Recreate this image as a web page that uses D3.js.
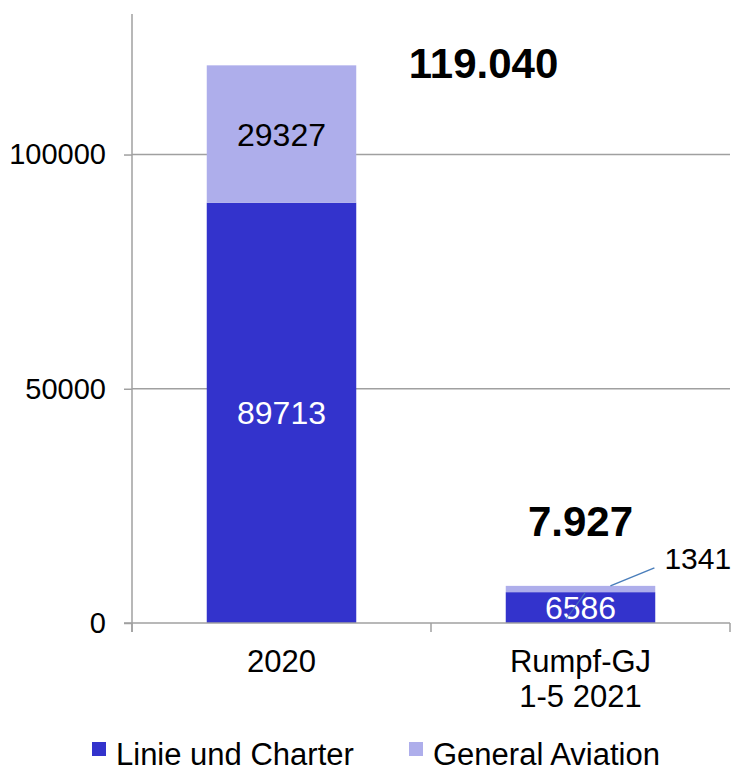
<!DOCTYPE html>
<html>
<head>
<meta charset="utf-8">
<script src="https://cdn.jsdelivr.net/npm/d3@7"></script>
<style>
  body { margin: 0; background: #fff; }
  svg { font-family: "Liberation Sans", Arial, sans-serif; }
</style>
</head>
<body>
<div id="chart"></div>
<script>
// data
var categories = ["2020", "Rumpf-GJ\n1-5 2021"];
var linieCharter = [89713, 6586];
var generalAviation = [29327, 1341];
var seriesNames = ["Linie und Charter", "General Aviation"];
var yTicks = [0, 50000, 100000];

var colors = ["#3333cc", "#aeaeeb"];
var gridColor = "#a0a0a0";

var width = 734, height = 772;
var plot = {left: 132, right: 730, top: 14, bottom: 623};

var svg = d3.select("#chart").append("svg").attr("width", width).attr("height", height);

var x = d3.scaleBand().domain(categories).range([plot.left, plot.right]).paddingInner(0.5).paddingOuter(0.25);
var y = d3.scaleLinear().domain([0, 130000]).range([plot.bottom, plot.top]);

// german number format for totals
var de = d3.formatLocale({decimal: ",", thousands: ".", grouping: [3], currency: ["", "€"]});
var fmtTotal = de.format(",d");

// gridlines
svg.append("g").selectAll("line").data(yTicks.filter(function(d){ return d > 0; })).enter().append("line")
   .attr("x1", plot.left).attr("x2", plot.right)
   .attr("y1", function(d){ return y(d); }).attr("y2", function(d){ return y(d); })
   .attr("stroke", gridColor).attr("stroke-width", 1.5);

// stacked bars
var rows = categories.map(function(c, i){ return {cat: c, a: linieCharter[i], b: generalAviation[i]}; });
var stack = d3.stack().keys(["a", "b"])(rows);

svg.append("g").selectAll("g").data(stack).enter().append("g")
   .attr("fill", function(d, i){ return colors[i]; })
   .selectAll("rect").data(function(d){ return d; }).enter().append("rect")
   .attr("x", function(d){ return x(d.data.cat); })
   .attr("width", x.bandwidth())
   .attr("y", function(d){ return y(d[1]); })
   .attr("height", function(d){ return y(d[0]) - y(d[1]); });

// y axis
var yAxis = d3.axisLeft(y).tickValues(yTicks).tickSize(8).tickPadding(18).tickFormat(d3.format("d"));
var ya = svg.append("g").attr("transform", "translate(" + plot.left + ",0)").call(yAxis);
ya.select(".domain").remove();
ya.selectAll(".tick line").attr("stroke", gridColor).attr("stroke-width", 1.5);
ya.selectAll(".tick text").attr("font-size", 29).attr("fill", "#000").attr("font-family", "Liberation Sans, Arial, sans-serif");

// axis lines
svg.append("line").attr("x1", plot.left).attr("x2", plot.left).attr("y1", plot.top).attr("y2", plot.bottom + 9)
   .attr("stroke", gridColor).attr("stroke-width", 1.5);
svg.append("line").attr("x1", plot.left - 8).attr("x2", plot.right).attr("y1", plot.bottom).attr("y2", plot.bottom)
   .attr("stroke", gridColor).attr("stroke-width", 1.5);

// category boundary ticks
var bounds = d3.range(categories.length + 1).map(function(i){ return plot.left + i * x.step(); });
svg.append("g").selectAll("line").data(bounds).enter().append("line")
   .attr("x1", function(d){ return d; }).attr("x2", function(d){ return d; })
   .attr("y1", plot.bottom).attr("y2", plot.bottom + 9)
   .attr("stroke", gridColor).attr("stroke-width", 1.5);

// category labels
var catLabels = svg.append("g").selectAll("text").data(categories).enter().append("text")
   .attr("x", function(d){ return x(d) + x.bandwidth() / 2; })
   .attr("y", plot.bottom + 49)
   .attr("text-anchor", "middle").attr("font-size", 31).attr("fill", "#000");
catLabels.selectAll("tspan").data(function(d){ return d.split("\n"); }).enter().append("tspan")
   .attr("x", function(){ return d3.select(this.parentNode).attr("x"); })
   .attr("dy", function(d, i){ return i === 0 ? 0 : 35; })
   .text(function(d){ return d; });

// value labels inside segments (the small GA value sits outside with a leader)
svg.append("g").selectAll("text").data(rows).enter().append("text")
   .attr("x", function(d){ return x(d.cat) + x.bandwidth() / 2; })
   .attr("y", function(d){ return (y(0) + y(d.a)) / 2; })
   .attr("dy", "0.36em")
   .attr("text-anchor", "middle").attr("font-size", 32).attr("fill", "#fff")
   .text(function(d){ return d.a; });

svg.append("g").selectAll("text").data(rows.slice(0, 1)).enter().append("text")
   .attr("x", function(d){ return x(d.cat) + x.bandwidth() / 2; })
   .attr("y", function(d){ return (y(d.a) + y(d.a + d.b)) / 2; })
   .attr("dy", "0.36em")
   .attr("text-anchor", "middle").attr("font-size", 32).attr("fill", "#000")
   .text(function(d){ return d.b; });

// leader line + outside label for small GA value
var r2 = rows[1];
var lx = x(r2.cat) + x.bandwidth() * 0.7, ly = y(r2.a + r2.b);
svg.append("line").attr("x1", lx).attr("y1", ly).attr("x2", lx + 44).attr("y2", ly - 18)
   .attr("stroke", "#4a7ebb").attr("stroke-width", 1.5);
svg.append("line")
   .attr("x1", x(r2.cat) + x.bandwidth() * 0.4).attr("y1", y(0) - 3)
   .attr("x2", x(r2.cat) + x.bandwidth() * 0.53).attr("y2", y(r2.a) + 1)
   .attr("stroke", "#4a7ebb").attr("stroke-width", 1.2).attr("opacity", 0.8);
svg.append("text").attr("x", lx + 54).attr("y", ly - 17)
   .attr("font-size", 30).attr("fill", "#000").text(r2.b);

// totals
var totalOffsets = [{dx: 202, dy: 13}, {dx: 0, dy: -50}];
svg.append("g").selectAll("text").data(rows).enter().append("text")
   .attr("x", function(d, i){ return x(d.cat) + x.bandwidth() / 2 + totalOffsets[i].dx; })
   .attr("y", function(d, i){ return y(d.a + d.b) + totalOffsets[i].dy; })
   .attr("text-anchor", "middle").attr("font-size", 42).attr("font-weight", "bold").attr("fill", "#000")
   .text(function(d){ return fmtTotal(d.a + d.b); });

// legend
var legendX = [92, 409];
var lg = svg.append("g").selectAll("g").data(seriesNames).enter().append("g")
   .attr("transform", function(d, i){ return "translate(" + legendX[i] + ",742)"; });
lg.append("rect").attr("width", 14).attr("height", 14).attr("fill", function(d, i){ return colors[i]; });
lg.append("text").attr("x", 24).attr("y", 23).attr("font-size", 31).attr("fill", "#000")
  .text(function(d){ return d; });
</script>
</body>
</html>
